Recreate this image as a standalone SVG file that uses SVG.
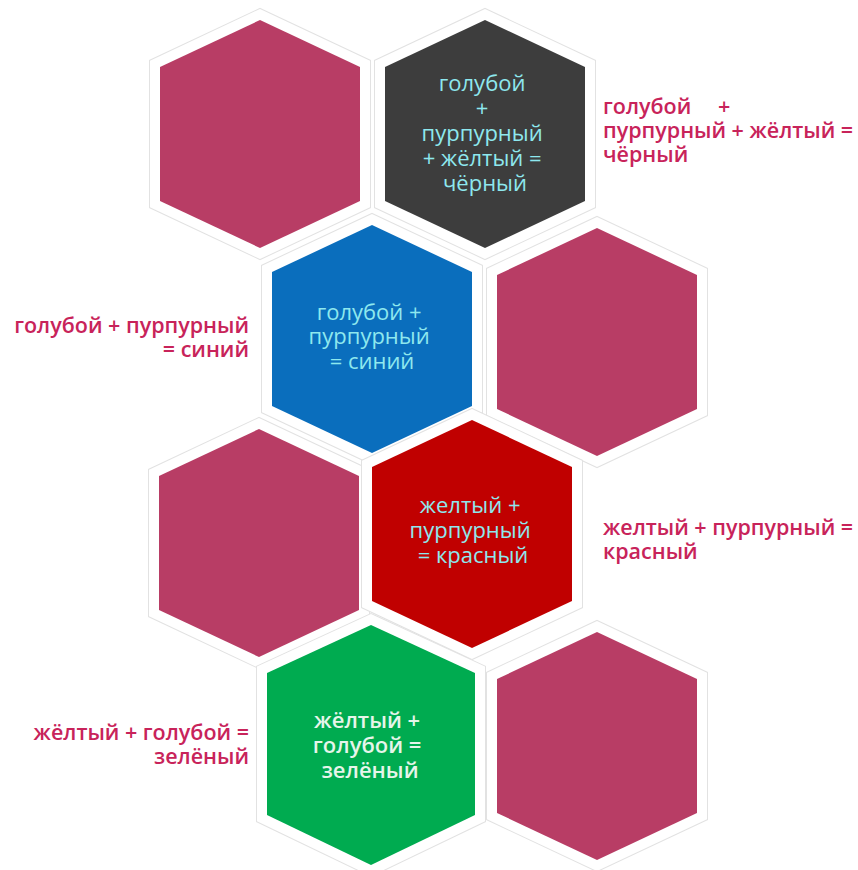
<svg xmlns="http://www.w3.org/2000/svg" width="858" height="870" viewBox="0 0 858 870">
  <style>
    .rim-out { fill: #ffffff; stroke: #e2e2e2; stroke-width: 22; stroke-linejoin: miter; }
    .rim-in { fill: none; stroke: #ffffff; stroke-width: 20; stroke-linejoin: miter; }
    .magenta { fill: #b83d65; }
    .dark { fill: #3d3d3d; }
    .blue { fill: #0a6ebd; }
    .red { fill: #c00000; }
    .green { fill: #00ab50; }
    .in { font-family: "Open Sans", "Noto Sans", sans-serif; font-size: 22px; fill: #8ee8ee; text-anchor: middle; }
    .in-g { font-family: "Open Sans", "Noto Sans", sans-serif; font-size: 22px; font-weight: 600; fill: #e6f5ea; text-anchor: middle; }
    .side { font-family: "Open Sans", "Noto Sans", sans-serif; font-size: 21.5px; fill: #c8235a; font-weight: 600; }
    .r { text-anchor: end; }
  </style>
  <rect width="858" height="870" fill="#ffffff"/>

  <g id="hex-top-left">
    <polygon class="rim-out" points="260,20 360,67 360,201 260,248 160,201 160,67"/>
    <polygon class="rim-in" points="260,20 360,67 360,201 260,248 160,201 160,67"/>
    <polygon class="magenta" points="260,20 360,67 360,201 260,248 160,201 160,67"/>
  </g>

  <g id="hex-black">
    <polygon class="rim-out" points="485,20 585,67 585,201 485,248 385,201 385,67"/>
    <polygon class="rim-in" points="485,20 585,67 585,201 485,248 385,201 385,67"/>
    <polygon class="dark" points="485,20 585,67 585,201 485,248 385,201 385,67"/>
    <text class="in">
      <tspan x="485" y="91">голубой</tspan>
      <tspan x="485" y="116">+</tspan>
      <tspan x="485" y="141">пурпурный</tspan>
      <tspan x="485" y="166">+ жёлтый =</tspan>
      <tspan x="485" y="191">чёрный</tspan>
    </text>
  </g>

  <g id="hex-blue">
    <polygon class="rim-out" points="372,225 472,272 472,406 372,453 272,406 272,272"/>
    <polygon class="rim-in" points="372,225 472,272 472,406 372,453 272,406 272,272"/>
    <polygon class="blue" points="372,225 472,272 472,406 372,453 272,406 272,272"/>
    <text class="in">
      <tspan x="372" y="320">голубой +</tspan>
      <tspan x="372" y="344">пурпурный</tspan>
      <tspan x="372" y="369">= синий</tspan>
    </text>
  </g>

  <g id="hex-right-2">
    <polygon class="rim-out" points="597,228 697,275 697,409 597,456 497,409 497,275"/>
    <polygon class="rim-in" points="597,228 697,275 697,409 597,456 497,409 497,275"/>
    <polygon class="magenta" points="597,228 697,275 697,409 597,456 497,409 497,275"/>
  </g>

  <g id="hex-left-3">
    <polygon class="rim-out" points="259,429 359,476 359,610 259,657 159,610 159,476"/>
    <polygon class="rim-in" points="259,429 359,476 359,610 259,657 159,610 159,476"/>
    <polygon class="magenta" points="259,429 359,476 359,610 259,657 159,610 159,476"/>
  </g>

  <g id="hex-red">
    <polygon class="rim-out" points="472,420 572,467 572,601 472,648 372,601 372,467"/>
    <polygon class="rim-in" points="472,420 572,467 572,601 472,648 372,601 372,467"/>
    <polygon class="red" points="472,420 572,467 572,601 472,648 372,601 372,467"/>
    <text class="in">
      <tspan x="473" y="513">желтый +</tspan>
      <tspan x="473" y="538">пурпурный</tspan>
      <tspan x="473" y="563">= красный</tspan>
    </text>
  </g>

  <g id="hex-green">
    <polygon class="rim-out" points="371,625 475,673 475,815 371,865 267,815 267,673"/>
    <polygon class="rim-in" points="371,625 475,673 475,815 371,865 267,815 267,673"/>
    <polygon class="green" points="371,625 475,673 475,815 371,865 267,815 267,673"/>
    <text class="in-g">
      <tspan x="370" y="728">жёлтый +</tspan>
      <tspan x="370" y="753">голубой =</tspan>
      <tspan x="370" y="778">зелёный</tspan>
    </text>
  </g>

  <g id="hex-right-4">
    <polygon class="rim-out" points="597,632 697,679 697,813 597,860 497,813 497,679"/>
    <polygon class="rim-in" points="597,632 697,679 697,813 597,860 497,813 497,679"/>
    <polygon class="magenta" points="597,632 697,679 697,813 597,860 497,813 497,679"/>
  </g>

  <!-- captions beside the coloured cells -->
  <g id="label-black">
    <text class="side"><tspan x="603" y="114">голубой</tspan><tspan x="718" y="114">+</tspan></text>
    <text class="side"><tspan x="603" y="138">пурпурный + жёлтый =</tspan></text>
    <text class="side"><tspan x="603" y="162">чёрный</tspan></text>
  </g>
  <g id="label-blue">
    <text class="side r"><tspan x="249" y="333">голубой + пурпурный</tspan></text>
    <text class="side r"><tspan x="249" y="357">= синий</tspan></text>
  </g>
  <g id="label-red">
    <text class="side"><tspan x="603" y="535">желтый + пурпурный =</tspan></text>
    <text class="side"><tspan x="603" y="559">красный</tspan></text>
  </g>
  <g id="label-green">
    <text class="side r"><tspan x="249" y="740">жёлтый + голубой =</tspan></text>
    <text class="side r"><tspan x="249" y="764">зелёный</tspan></text>
  </g>
</svg>
